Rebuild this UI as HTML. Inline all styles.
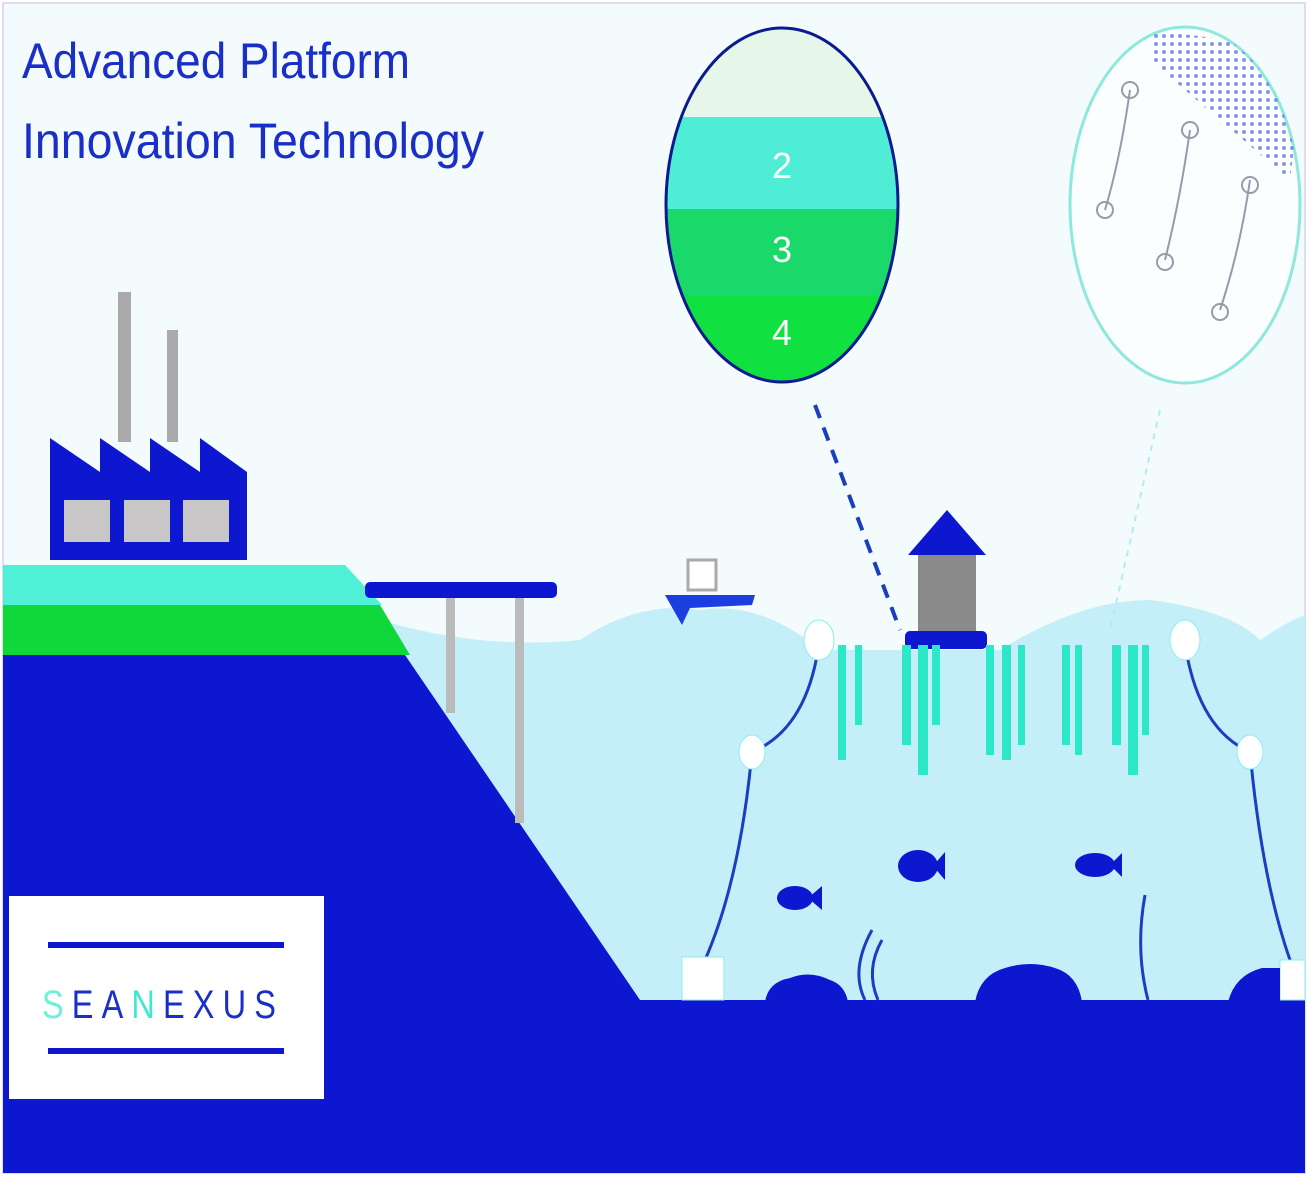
<!DOCTYPE html>
<html><head><style>
body{margin:0;background:#fff}
svg{display:block}
</style></head><body>
<svg width="1308" height="1178" viewBox="0 0 1308 1178" xmlns="http://www.w3.org/2000/svg">
<rect x="0" y="0" width="1308" height="1178" fill="#fff"/>
<rect x="3" y="3" width="1302" height="1170" fill="#f4fbfd" stroke="#dde" stroke-width="2"/>
<!-- water -->
<path d="M380 620 Q480 650 580 640 Q640 600 700 610 Q760 600 820 650 L1000 650 Q1080 600 1150 600 Q1230 610 1260 640 Q1290 620 1305 615 L1305 1010 L380 1010 Z" fill="#c4eff9"/>
<!-- land -->
<path d="M3 655 L405 655 L640 1000 L1305 1000 L1305 1173 L3 1173 Z" fill="#0c17cf"/>
<path d="M3 605 L380 605 L410 655 L3 655 Z" fill="#10d83a"/>
<path d="M3 565 L345 565 L382 605 L3 605 Z" fill="#4ff0d6"/>
<!-- pier -->
<rect x="365" y="582" width="192" height="16" rx="5" fill="#0c17cf"/>
<rect x="446" y="598" width="9" height="115" fill="#bbb"/>
<rect x="515" y="598" width="9" height="225" fill="#bbb"/>
<!-- factory -->
<rect x="118" y="292" width="13" height="150" fill="#aaa"/>
<rect x="167" y="330" width="11" height="112" fill="#aaa"/>
<path d="M50 560 L50 438 L100 472 L100 438 L150 472 L150 438 L200 472 L200 438 L247 472 L247 560 Z" fill="#0c17cf"/>
<rect x="64" y="500" width="46" height="42" fill="#c8c6c6"/>
<rect x="124" y="500" width="46" height="42" fill="#c8c6c6"/>
<rect x="183" y="500" width="46" height="42" fill="#c8c6c6"/>
<!-- title -->
<text x="22" y="78" font-family="Liberation Sans, sans-serif" font-size="50" fill="#1a2ec8" textLength="388" lengthAdjust="spacingAndGlyphs">Advanced Platform</text>
<text x="22" y="158" font-family="Liberation Sans, sans-serif" font-size="50" fill="#1a2ec8" textLength="462" lengthAdjust="spacingAndGlyphs">Innovation Technology</text>
<!-- logo -->
<rect x="9" y="896" width="315" height="203" fill="#fff"/>
<rect x="48" y="942" width="236" height="6" fill="#0c17cf"/>
<rect x="48" y="1048" width="236" height="6" fill="#0c17cf"/>
<text x="42" y="1018" font-family="Liberation Sans, sans-serif" font-size="40" letter-spacing="10" fill="#1a2ec8" textLength="242" lengthAdjust="spacingAndGlyphs"><tspan fill="#6ff0d8">S</tspan>EA<tspan fill="#3fe8d0">N</tspan>EXUS</text>
<!-- boat -->
<rect x="688" y="560" width="28" height="30" fill="#fff" stroke="#aaa" stroke-width="3"/>
<path d="M665 595 L755 595 L752 605 L690 608 L682 625 Z" fill="#1a3ee0"/>
<!-- layered circle -->
<defs><clipPath id="c1"><ellipse cx="782" cy="205" rx="116" ry="177"/></clipPath>
<clipPath id="c2"><ellipse cx="1185" cy="205" rx="115" ry="178"/></clipPath>
<pattern id="dots" width="8" height="8" patternUnits="userSpaceOnUse"><circle cx="4" cy="4" r="2" fill="#6a7ee0"/></pattern></defs>
<g clip-path="url(#c1)">
<rect x="660" y="25" width="250" height="92" fill="#e6f7ea"/>
<rect x="660" y="117" width="250" height="92" fill="#4fecd6"/>
<rect x="660" y="209" width="250" height="86" fill="#1ad86a"/>
<rect x="660" y="295" width="250" height="90" fill="#10e040"/>
</g>
<ellipse cx="782" cy="205" rx="116" ry="177" fill="none" stroke="#0c1a90" stroke-width="3"/>
<text x="782" y="178" font-family="Liberation Sans" font-size="36" fill="#fff" text-anchor="middle">2</text>
<text x="782" y="262" font-family="Liberation Sans" font-size="36" fill="#fff" text-anchor="middle">3</text>
<text x="782" y="345" font-family="Liberation Sans" font-size="36" fill="#fff" text-anchor="middle">4</text>
<line x1="815" y1="405" x2="900" y2="630" stroke="#1a3ec0" stroke-width="4" stroke-dasharray="14,10"/>
<!-- right circle -->
<ellipse cx="1185" cy="205" rx="115" ry="178" fill="#fbfefe" stroke="#8ee8dc" stroke-width="3"/>
<g clip-path="url(#c2)"><path d="M1150 30 L1230 40 L1300 100 L1290 180 L1150 60 Z" fill="url(#dots)" opacity="0.8"/></g>
<g fill="none" stroke="#99a" stroke-width="2">
<path d="M1130 90 Q1120 160 1105 210"/><path d="M1190 130 Q1180 200 1165 260"/><path d="M1250 180 Q1240 250 1220 310"/>
<circle cx="1130" cy="90" r="8"/><circle cx="1105" cy="210" r="8"/><circle cx="1190" cy="130" r="8"/><circle cx="1165" cy="262" r="8"/><circle cx="1250" cy="185" r="8"/><circle cx="1220" cy="312" r="8"/>
</g>
<line x1="1160" y1="410" x2="1110" y2="630" stroke="#b0eeee" stroke-width="2" stroke-dasharray="6,6"/>
<!-- platform -->
<path d="M908 555 L947 510 L986 555 Z" fill="#0c17cf"/>
<rect x="918" y="555" width="58" height="78" fill="#8a8a8a"/>
<rect x="905" y="631" width="82" height="18" rx="5" fill="#0c17cf"/>
<!-- seaweed lines -->
<g fill="#2de8c8">
<rect x="838" y="645" width="8" height="115"/><rect x="855" y="645" width="7" height="80"/>
<rect x="902" y="645" width="9" height="100"/><rect x="918" y="645" width="10" height="130"/><rect x="932" y="645" width="8" height="80"/>
<rect x="986" y="645" width="8" height="110"/><rect x="1002" y="645" width="9" height="115"/><rect x="1018" y="645" width="7" height="100"/>
<rect x="1062" y="645" width="8" height="100"/><rect x="1075" y="645" width="7" height="110"/>
<rect x="1112" y="645" width="9" height="100"/><rect x="1128" y="645" width="10" height="130"/><rect x="1142" y="645" width="7" height="90"/>
</g>
<!-- mooring lines -->
<g fill="none" stroke="#1a3ec0" stroke-width="3">
<path d="M818 650 Q805 730 752 752"/><path d="M752 752 Q740 880 705 960"/>
<path d="M1186 650 Q1200 730 1250 752"/><path d="M1250 752 Q1262 880 1290 960"/>
<path d="M865 1000 Q850 970 872 930"/><path d="M878 1000 Q865 970 882 940"/>
<path d="M1148 1000 Q1135 950 1145 895"/>
</g>
<g fill="#fff" stroke="#8ee" stroke-width="1">
<ellipse cx="819" cy="640" rx="15" ry="20"/><ellipse cx="1185" cy="640" rx="15" ry="20"/>
<ellipse cx="752" cy="752" rx="13" ry="17"/><ellipse cx="1250" cy="752" rx="13" ry="17"/>
<rect x="682" y="957" width="42" height="43"/><rect x="1280" y="960" width="25" height="40"/>
</g>
<!-- fish -->
<g fill="#0c17cf">
<ellipse cx="795" cy="898" rx="18" ry="12"/><path d="M808 898 L822 886 L822 910 Z"/>
<ellipse cx="918" cy="866" rx="20" ry="16"/><path d="M933 866 L945 852 L945 880 Z"/>
<ellipse cx="1095" cy="865" rx="20" ry="12"/><path d="M1110 865 L1122 853 L1122 877 Z"/>
</g>
<!-- rocks -->
<g fill="#0c17cf">
<path d="M765 1002 Q768 982 790 978 Q810 970 830 980 Q845 985 848 1002 Z"/>
<path d="M975 1002 Q980 975 1005 968 Q1030 960 1055 968 Q1078 975 1082 1002 Z"/>
<path d="M1228 1002 Q1235 975 1262 968 L1280 968 L1280 1002 Z"/>
</g>
</svg>
</body></html>
